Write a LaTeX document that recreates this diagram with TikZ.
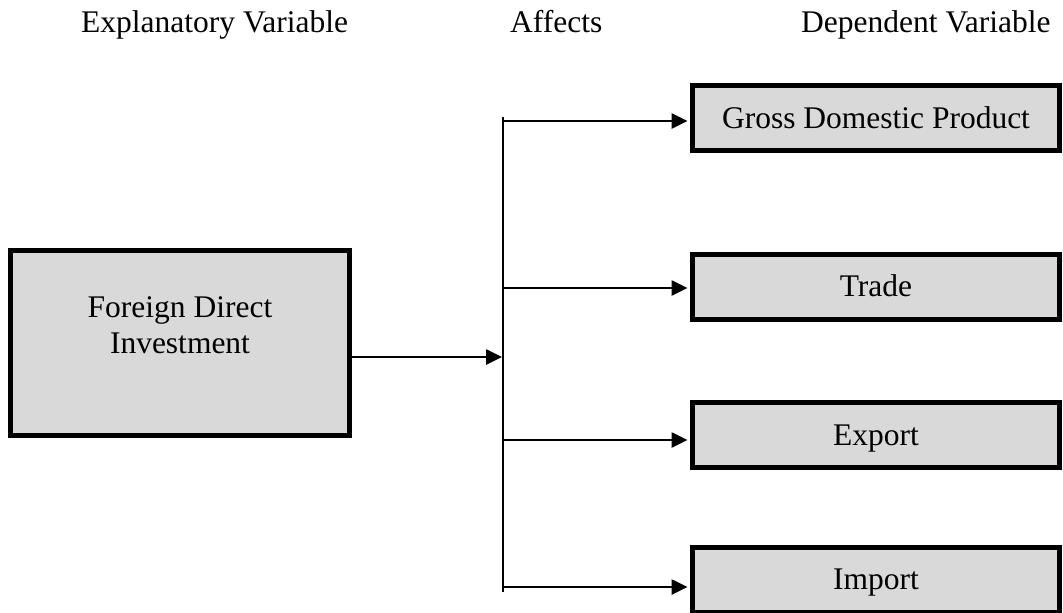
\documentclass[tikz,border=0pt]{standalone}
\usepackage{fontspec}
\setmainfont{Liberation Serif}
\usetikzlibrary{arrows.meta}
\definecolor{boxgray}{HTML}{D9D9D9}
\begin{document}
\begin{tikzpicture}[x=1pt,y=-1pt,
  every node/.style={font=\fontsize{31.5}{36}\selectfont, inner sep=0pt},
  varbox/.style={draw=black, line width=5pt, fill=boxgray, minimum width=367pt, minimum height=65pt, text height=21pt, text depth=1pt},
  title/.style={anchor=base west},
  link/.style={line width=2.6pt, -{Triangle[length=16pt,width=15pt]}},
  trunk/.style={line width=2pt}]
\useasboundingbox (0,0) rectangle (1063,613);
% titles
\node[title] (t1) at (81,32) {Explanatory Variable};
\node[title] (t2) at (510,32) {Affects};
\node[title] (t3) at (801,32) {Dependent Variable};
% boxes
\node[varbox, minimum width=339pt, minimum height=185pt] (fdi) at (180,343) {};
\node[anchor=north, align=center] (fditext) at (180,296) {Foreign Direct\\Investment};
\node[varbox] (gdp) at (876,118) {Gross Domestic Product};
\node[varbox] (trade) at (876,286.5) {Trade};
\node[varbox] (export) at (876,435) {Export};
\node[varbox] (import) at (876,579.5) {Import};
% trunk
\coordinate (top) at (503,117);
\coordinate (bot) at (503,592);
\draw[trunk] (top) -- (bot);
% junctions
\coordinate (j0) at (503,357);
\coordinate (j1) at (503,121);
\coordinate (j2) at (503,288);
\coordinate (j3) at (503,440);
\coordinate (j4) at (503,587);
\draw[link, shorten >=1pt] (j0 -| fdi.east) -- (j0);
\draw[link, shorten >=2.5pt] (j1) -- (j1 -| gdp.west);
\draw[link, shorten >=2.5pt] (j2) -- (j2 -| trade.west);
\draw[link, shorten >=2.5pt] (j3) -- (j3 -| export.west);
\draw[link, shorten >=2.5pt] (j4) -- (j4 -| import.west);
\end{tikzpicture}
\end{document}
